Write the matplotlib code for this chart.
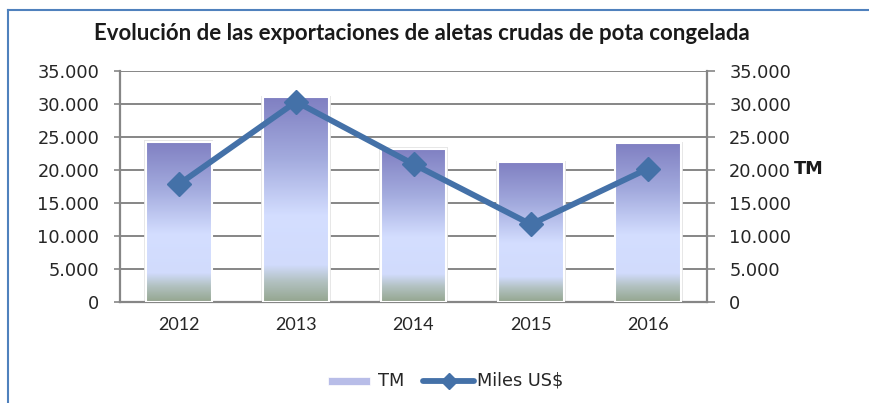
import matplotlib
matplotlib.use("Agg")
import matplotlib.pyplot as plt
import numpy as np
from matplotlib.lines import Line2D
from matplotlib.colors import LinearSegmentedColormap
from matplotlib.patches import Rectangle

years = ["2012", "2013", "2014", "2015", "2016"]
tm_values = [24250, 30950, 23200, 21150, 24000]
usd_values = [17800, 30300, 20850, 11750, 20200]
yticks = [0, 5000, 10000, 15000, 20000, 25000, 30000, 35000]
ytick_labels = ["0", "5.000", "10.000", "15.000", "20.000", "25.000", "30.000", "35.000"]
title = "Evolución de las exportaciones de aletas crudas de pota congelada"

W, H = 870, 403
fig = plt.figure(figsize=(W / 100, H / 100), dpi=100)
fig.patch.set_facecolor("white")

ax = fig.add_axes([120 / W, 1 - 302 / H, (707 - 120) / W, (302 - 70.7) / H])
ax2 = ax.twinx()

x = np.arange(len(years))
ax.set_xlim(-0.5, len(years) - 0.5)
ax.set_ylim(0, 35000)
ax2.set_ylim(0, 35000)

grid_c = "#868686"
for t in yticks[1:]:
    ax.axhline(t, color=grid_c, lw=1.4, zorder=1)

cmap = LinearSegmentedColormap.from_list(
    "bar",
    [(0.0, (0.58, 0.65, 0.56)),
     (0.10, (0.70, 0.76, 0.76)),
     (0.18, (0.82, 0.86, 0.99)),
     (0.42, (0.83, 0.87, 1.0)),
     (0.70, (0.64, 0.67, 0.87)),
     (1.0, (0.50, 0.50, 0.76))])
grad = np.linspace(0, 1, 256).reshape(-1, 1)

bw = 0.56
bars = ax.bar(x, tm_values, width=bw, facecolor="none", edgecolor="white",
              linewidth=1.5, zorder=3)
for b in bars:
    x0, y0 = b.get_x(), b.get_y()
    w, h = b.get_width(), b.get_height()
    sh = Rectangle((x0 - 0.015, 0), w + 0.03, h + 200, facecolor="#e4e4e4",
                   edgecolor="none", zorder=2, alpha=0.9)
    ax.add_patch(sh)
    im = ax.imshow(grad, extent=[x0, x0 + w, 0, h], origin="lower", cmap=cmap,
                   aspect="auto", zorder=2.5)
    im.set_clip_path(b)
ax.set_xlim(-0.5, len(years) - 0.5)
ax.set_ylim(0, 35000)

line_c = "#4471a8"
ax2.plot(x, usd_values, color=line_c, lw=4.2, marker="D", markersize=12,
         markerfacecolor=line_c, markeredgecolor=line_c, zorder=5)

tick_font = dict(family="DejaVu Sans", size=12.8, color="#262626")
ax.set_yticks(yticks)
ax.set_yticklabels(ytick_labels, **tick_font)
ax2.set_yticks(yticks)
ax2.set_yticklabels(ytick_labels, **tick_font)
ax.set_xticks(x)
ax.set_xticklabels(years, family="Lato", size=13, color="#262626")
ax.tick_params(axis="x", length=0, pad=11)
ax.tick_params(axis="y", length=4, width=1.2, color=grid_c, pad=11)
ax2.tick_params(axis="y", length=6, width=1.2, color=grid_c, pad=10)

for a in (ax, ax2):
    a.spines["top"].set_visible(False)
    for s in ["left", "right", "bottom"]:
        a.spines[s].set_color(grid_c)
        a.spines[s].set_linewidth(1.6)
ax.spines["right"].set_visible(False)
ax2.spines["left"].set_visible(False)
ax2.spines["bottom"].set_visible(False)

fig.text(794 / W, 1 - 169 / H, "TM", family="DejaVu Sans", weight="bold",
         size=12.8, color="#1a1a1a", va="center", ha="left")

fig.text(422 / W, 1 - 33 / H, title, family="Lato", weight="bold", size=16,
         color="#1a1a1a", ha="center", va="center")

# legend
ly = 1 - 381 / H
fig.patches.append(Rectangle((328 / W, ly - 4 / H), 42 / W, 8 / H,
                             transform=fig.transFigure, facecolor="#b8bde8",
                             edgecolor="white", lw=0.5))
fig.text(378 / W, ly, "TM", family="DejaVu Sans", size=12.8, color="#262626",
         va="center", ha="left")
fig.lines.append(Line2D([423 / W, 474 / W], [ly, ly], transform=fig.transFigure,
                        color=line_c, lw=4.2, solid_capstyle="round"))
fig.lines.append(Line2D([449 / W], [ly], transform=fig.transFigure, color=line_c,
                        marker="D", markersize=8, lw=0))
fig.text(477 / W, ly, "Miles US$", family="DejaVu Sans", size=12.8, color="#262626",
         va="center", ha="left")

# outer frame (left and top)
frame_c = "#4f81bd"
fig.lines.append(Line2D([8.5 / W, 8.5 / W], [0, 1 - 10 / H], transform=fig.transFigure,
                        color=frame_c, lw=1.5))
fig.lines.append(Line2D([8.5 / W, 1], [1 - 10 / H, 1 - 10 / H], transform=fig.transFigure,
                        color=frame_c, lw=1.5))

fig.savefig("out.png", dpi=100)
